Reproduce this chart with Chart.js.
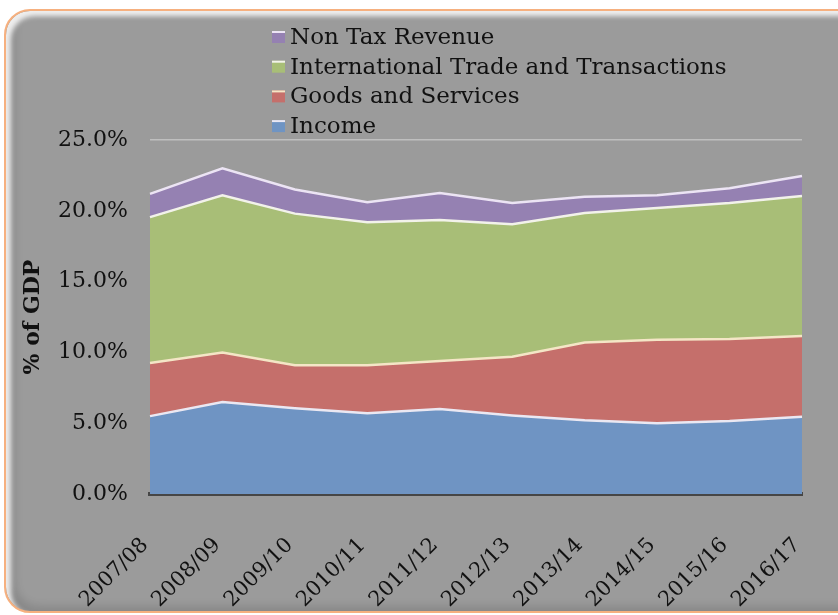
<!DOCTYPE html>
<html>
<head>
<meta charset="utf-8">
<script src="https://cdn.jsdelivr.net/npm/chart.js@4.4.1/dist/chart.umd.min.js"></script>
<style>
  body { margin: 0; width: 838px; height: 615px; overflow: hidden; background: #fff; position: relative; }
  #frame {
    position: absolute; left: 4px; top: 9px; width: 900px; height: 600px;
    border: 2px solid #f6b07f; border-radius: 26px; background: #9b9b9b;
    box-shadow: inset 5px 5px 5px rgba(255,255,255,0.85), inset 9px -5px 8px rgba(0,0,0,0.12);
  }
  #wrap { position: absolute; left: 0; top: 0; width: 838px; height: 615px; }
</style>
</head>
<body>
<div id="frame"></div>
<div id="wrap"><canvas id="revenueChart" width="838" height="615"></canvas></div>
<script>
const years = ['2007/08', '2008/09', '2009/10', '2010/11', '2011/12', '2012/13', '2013/14', '2014/15', '2015/16', '2016/17'];
const income = [5.5, 6.5, 6.05, 5.7, 6.0, 5.55, 5.2, 5.0, 5.15, 5.45];
const goods = [3.75, 3.5, 3.05, 3.4, 3.4, 4.15, 5.5, 5.9, 5.8, 5.7];
const trade = [10.3, 11.1, 10.7, 10.1, 9.95, 9.35, 9.15, 9.3, 9.6, 9.9];
const nonTax = [1.65, 1.9, 1.7, 1.4, 1.9, 1.5, 1.15, 0.9, 1.05, 1.4];
const yTicks = [0, 5, 10, 15, 20, 25];

const serif = '"DejaVu Serif", "Liberation Serif", serif';

// legend drawn as one column above the plot, top series first
const columnLegend = {
    id: 'columnLegend',
    afterDraw(chart) {
        const ctx = chart.ctx;
        const sets = chart.data.datasets.slice().reverse();
        ctx.save();
        ctx.font = '23px ' + serif;
        ctx.textBaseline = 'middle';
        sets.forEach((ds, i) => {
            const y = 37 + i * 29.7;
            ctx.fillStyle = ds.backgroundColor;
            ctx.fillRect(272, y - 6, 13, 12);
            ctx.fillStyle = ds.borderColor;
            ctx.fillRect(272, y - 6, 13, 2);
            ctx.fillStyle = '#111';
            ctx.fillText(ds.label, 290, y + 1);
        });
        ctx.restore();
    }
};

const ctx = document.getElementById('revenueChart').getContext('2d');
new Chart(ctx, {
    type: 'line',
    data: {
        labels: years,
        datasets: [
            { label: 'Income', data: income, backgroundColor: '#6f94c3', borderColor: '#ebe8f2', fill: 'origin' },
            { label: 'Goods and Services', data: goods, backgroundColor: '#c56f6b', borderColor: '#f4e6c6', fill: '-1' },
            { label: 'International Trade and Transactions', data: trade, backgroundColor: '#a8be77', borderColor: '#f2f2ea', fill: '-1' },
            { label: 'Non Tax Revenue', data: nonTax, backgroundColor: '#9581b2', borderColor: '#ece4f4', fill: '-1' }
        ]
    },
    options: {
        responsive: false,
        animation: false,
        devicePixelRatio: 1,
        layout: { padding: { top: 140, right: 36, left: 0, bottom: 0 } },
        elements: {
            point: { radius: 0 },
            line: { borderWidth: 2.5, tension: 0 }
        },
        plugins: {
            legend: { display: false },
            tooltip: { enabled: false }
        },
        scales: {
            x: {
                offset: false,
                grid: { display: false },
                border: { color: '#464646', width: 4 },
                ticks: { font: { family: serif, size: 21 }, color: '#111', maxRotation: 45, minRotation: 45, padding: 31, labelOffset: -5 },
                afterFit(scale) {
                    scale.height = 121;
                    scale.paddingLeft = 0;
                    scale.paddingRight = 0;
                }
            },
            y: {
                stacked: true,
                min: 0,
                max: 25,
                afterBuildTicks(scale) { scale.ticks = yTicks.map(v => ({ value: v })); },
                ticks: {
                    font: { family: serif, size: 22 },
                    color: '#111',
                    padding: 22,
                    callback: v => v.toFixed(1) + '%'
                },
                grid: { color: 'rgba(215,215,215,0.6)', lineWidth: 1.5, drawTicks: false },
                border: { display: false },
                title: {
                    display: true,
                    text: '% of GDP',
                    color: '#111',
                    font: { family: serif, size: 22, weight: 'bold' },
                    padding: { top: 20, bottom: 0 }
                },
                afterFit(scale) { scale.width = 150; }
            }
        }
    },
    plugins: [columnLegend]
});
</script>
</body>
</html>
